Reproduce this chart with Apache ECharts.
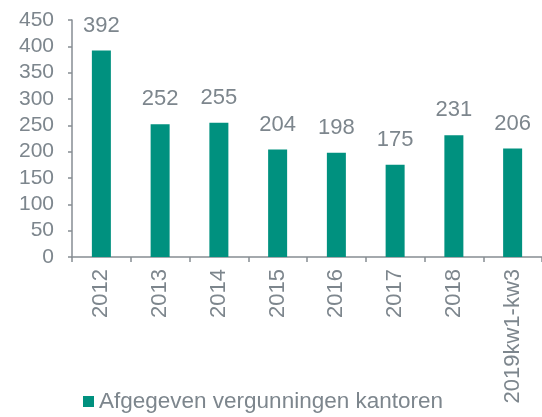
<!DOCTYPE html>
<html><head><meta charset="utf-8">
<script src="https://cdn.jsdelivr.net/npm/echarts@6/dist/echarts.min.js"></script>
<style>html,body{margin:0;padding:0;background:#fff}#c{width:542px;height:417px}</style>
</head><body><div id="c"></div>
<script>
const categories = ['2012','2013','2014','2015','2016','2017','2018','2019kw1-kw3'];
const values = [392,252,255,204,198,175,231,206];
const seriesName = 'Afgegeven vergunningen kantoren';
const textColor = '#7d868d';
const axisColor = '#868d93';
const chart = echarts.init(document.getElementById('c'));
chart.setOption({
  animation:false,
  grid:{left:72,right:-8,top:20,bottom:160},
  legend:{bottom:-1,left:78,itemWidth:11,itemHeight:11,icon:'rect',itemGap:5,
    textStyle:{color:textColor,fontSize:22.5,fontFamily:'Liberation Sans'}},
  xAxis:{type:'category',data:categories,
    axisLine:{lineStyle:{color:axisColor,width:1.5}},
    axisTick:{show:true,length:5,lineStyle:{color:axisColor,width:1.5}},
    axisLabel:{rotate:90,color:textColor,fontSize:22,fontFamily:'Liberation Sans',margin:12,interval:0}},
  yAxis:{type:'value',min:0,max:450,interval:50,
    axisLine:{show:true,lineStyle:{color:axisColor,width:1.5}},
    axisTick:{show:true,length:4,lineStyle:{color:axisColor,width:1.5}},
    splitLine:{show:false},
    axisLabel:{color:textColor,fontSize:21,fontFamily:'Liberation Sans',margin:18}},
  series:[{type:'bar',name:seriesName,data:values,barWidth:19,
    itemStyle:{color:'#00917f'},
    label:{show:true,position:'top',distance:14,color:textColor,fontSize:22,fontFamily:'Liberation Sans'}}]
});
</script></body></html>
